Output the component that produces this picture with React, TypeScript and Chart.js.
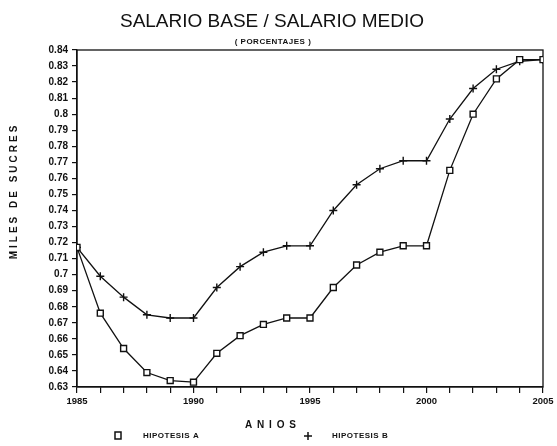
import React, { useEffect, useRef } from "react";
import { Chart, registerables } from "chart.js";

Chart.register(...registerables);

const years = [1985, 1986, 1987, 1988, 1989, 1990, 1991, 1992, 1993, 1994, 1995, 1996, 1997, 1998, 1999, 2000, 2001, 2002, 2003, 2004, 2005];
const hipotesisA = [0.717, 0.676, 0.654, 0.639, 0.634, 0.633, 0.651, 0.662, 0.669, 0.673, 0.673, 0.692, 0.706, 0.714, 0.718, 0.718, 0.765, 0.8, 0.822, 0.834, 0.834];
const hipotesisB = [0.717, 0.699, 0.686, 0.675, 0.673, 0.673, 0.692, 0.705, 0.714, 0.718, 0.718, 0.74, 0.756, 0.766, 0.771, 0.771, 0.797, 0.816, 0.828, 0.833, 0.834];
const xLabelYears = [1985, 1990, 1995, 2000, 2005];

const title = "SALARIO BASE / SALARIO MEDIO";
const subtitle = "( PORCENTAJES )";
const yTitle = "MILES DE SUCRES";
const xTitle = "A N I O S";
const legendA = "HIPOTESIS A";
const legendB = "HIPOTESIS B";

const INK = "#111";

export default function App() {
  const ref = useRef<HTMLCanvasElement | null>(null);
  useEffect(() => {
    if (!ref.current) return;
    const textPlugin = {
      id: "texts",
      beforeDatasetsDraw(chart: any) {
        const { ctx, chartArea } = chart;
        ctx.save();
        ctx.strokeStyle = INK;
        ctx.lineWidth = 1.3;
        ctx.strokeRect(chartArea.left, chartArea.top, chartArea.right - chartArea.left, chartArea.bottom - chartArea.top);
        ctx.restore();
      },
      afterDraw(chart: any) {
        const { ctx } = chart;
        ctx.save();
        ctx.fillStyle = INK;
        ctx.strokeStyle = INK;
        ctx.textAlign = "center";
        ctx.textBaseline = "middle";
        ctx.font = "19px 'Liberation Sans', sans-serif";
        ctx.fillText(title, 272, 22);
        ctx.font = "bold 8px 'Liberation Sans', sans-serif";
        (ctx as any).letterSpacing = "0.5px";
        ctx.fillText(subtitle, 273, 42);
        // y title
        ctx.save();
        ctx.translate(14, 191);
        ctx.rotate(-Math.PI / 2);
        ctx.font = "bold 10px 'Liberation Sans', sans-serif";
        (ctx as any).letterSpacing = "3px";
        ctx.fillText(yTitle, 0, 0);
        ctx.restore();
        // x title
        ctx.font = "bold 10px 'Liberation Sans', sans-serif";
        (ctx as any).letterSpacing = "1px";
        ctx.fillText(xTitle, 271, 425);
        // legend
        ctx.textAlign = "left";
        ctx.font = "bold 8px 'Liberation Sans', sans-serif";
        (ctx as any).letterSpacing = "0.5px";
        ctx.lineWidth = 1.5;
        ctx.strokeRect(115, 432, 6, 7);
        ctx.fillText(legendA, 143, 436);
        ctx.beginPath();
        ctx.moveTo(304, 436);
        ctx.lineTo(312, 436);
        ctx.moveTo(308, 432);
        ctx.lineTo(308, 440);
        ctx.stroke();
        ctx.fillText(legendB, 332, 436);
        ctx.restore();
      },
    };
    const chart = new Chart(ref.current, {
      type: "line",
      data: {
        datasets: [
          {
            label: legendA,
            data: years.map((y, i) => ({ x: y, y: hipotesisA[i] })),
            borderColor: INK,
            backgroundColor: "#fff",
            borderWidth: 1.3,
            pointStyle: "rect",
            pointRadius: 4.2,
            pointBorderWidth: 1.4,
            pointBorderColor: INK,
            pointBackgroundColor: "#fff",
            tension: 0,
          },
          {
            label: legendB,
            data: years.map((y, i) => ({ x: y, y: hipotesisB[i] })),
            borderColor: INK,
            backgroundColor: INK,
            borderWidth: 1.3,
            pointStyle: "cross",
            pointRadius: 4,
            pointBorderWidth: 1.4,
            pointBorderColor: INK,
            tension: 0,
          },
        ],
      },
      options: {
        responsive: true,
        maintainAspectRatio: false,
        animation: false,
        layout: { padding: { left: 0, right: 14, top: 50, bottom: 0 } },
        plugins: {
          legend: { display: false },
          title: { display: false },
          tooltip: { enabled: false },
        },
        scales: {
          x: {
            type: "linear",
            min: 1985,
            max: 2005,
            afterFit(scale: any) {
              scale.height = 59;
            },
            afterBuildTicks(scale: any) {
              scale.ticks = years.map((v) => ({ value: v }));
            },
            grid: { display: true, drawOnChartArea: false, tickLength: 6, color: INK, lineWidth: 1.2 },
            border: { display: true, color: INK, width: 1.3 },
            ticks: {
              autoSkip: false,
              maxRotation: 0,
              padding: 3,
              color: INK,
              font: { family: "'Liberation Sans', sans-serif", size: 9.5, weight: "bold" },
              callback: (v: any) => (xLabelYears.includes(Number(v)) ? String(v) : ""),
            },
          },
          y: {
            min: 0.63,
            max: 0.84,
            afterFit(scale: any) {
              scale.width = 77;
            },
            grid: { display: true, drawOnChartArea: false, tickLength: 5, color: INK, lineWidth: 1.2 },
            border: { display: true, color: INK, width: 1.3 },
            ticks: {
              stepSize: 0.01,
              autoSkip: false,
              padding: 4,
              color: INK,
              font: { family: "'Liberation Sans', sans-serif", size: 10, weight: "bold" },
              callback: (v: any) => String(Math.round(Number(v) * 100) / 100),
            },
          },
        },
      },
      plugins: [textPlugin],
    });
    return () => chart.destroy();
  }, []);
  return (
    <div style={{ position: "absolute", left: 0, top: 0, width: 557, height: 446, background: "#fff" }}>
      <canvas ref={ref} />
    </div>
  );
}
